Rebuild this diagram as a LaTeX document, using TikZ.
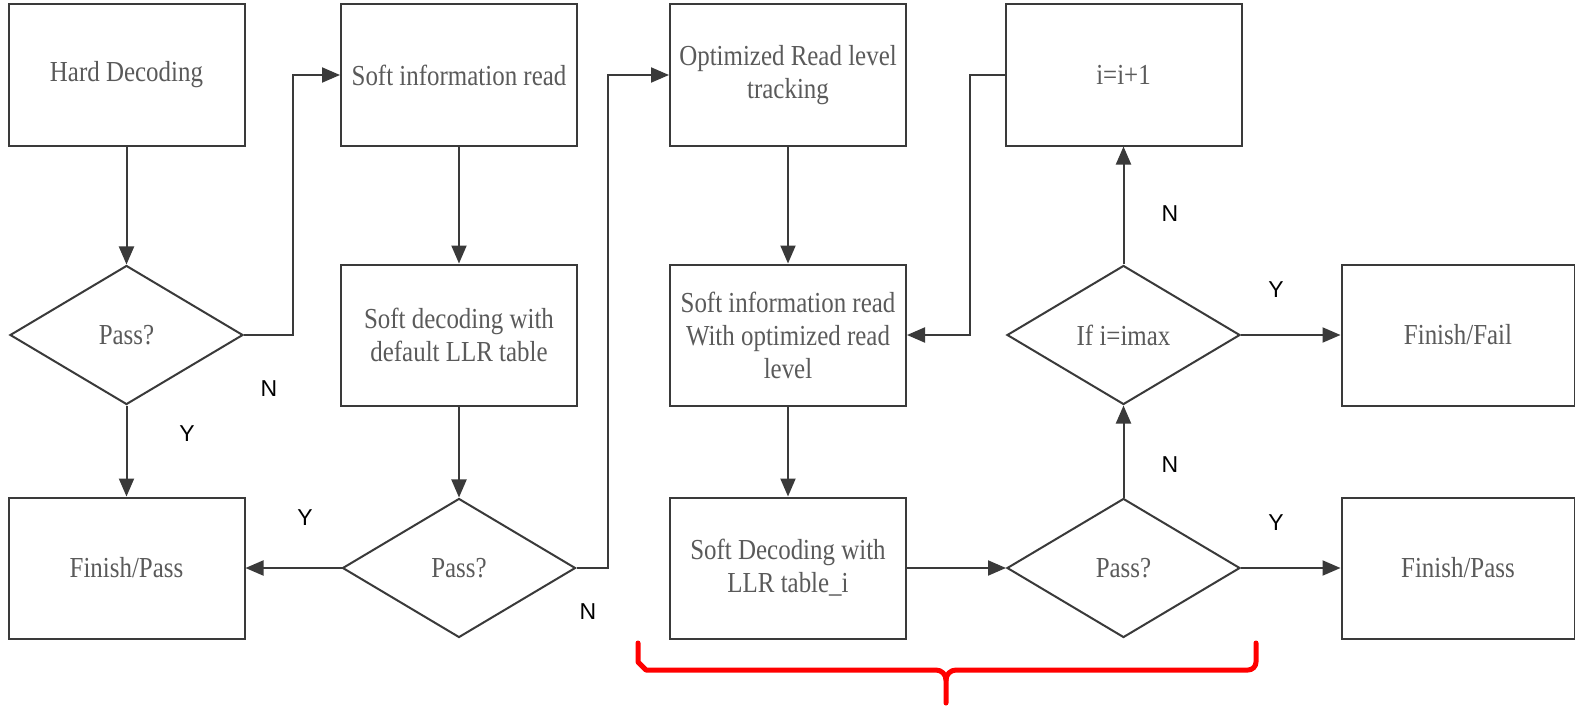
\documentclass[tikz,border=0pt]{standalone}
\usepackage{fontspec}
\usetikzlibrary{shapes.geometric,arrows.meta}
\newfontfamily\boxfont[FakeStretch=0.86]{Liberation Serif}
\newfontfamily\labfont{Liberation Sans}
\definecolor{edge}{HTML}{3A3A3A}
\definecolor{boxtext}{HTML}{5A5A5A}
\begin{document}
\begin{tikzpicture}[x=1pt,y=-1pt,
  base/.style={draw=edge,line width=2pt,align=center,text=boxtext,
    font=\boxfont\fontsize{29}{33}\selectfont,inner sep=0pt},
  stepbox/.style={base,rectangle,minimum width=236pt,minimum height=141pt},
  endbox/.style={base,rectangle,minimum width=233pt,minimum height=141pt},
  test/.style={base,diamond,aspect=1.68,minimum width=233pt,minimum height=139pt},
  flow/.style={draw=edge,line width=2pt,-{Triangle[length=18pt,width=15pt]}},
  lab/.style={font=\labfont\fontsize{23}{26}\selectfont,text=black,inner sep=0pt}]
\useasboundingbox (0,0) rectangle (1575,709);
\fill[white] (0,0) rectangle (1575,709);

% first column
\node[stepbox] (hard) at (126.5,75) {Hard Decoding};
\node[test] (p1) at (126.5,335) {Pass?};
\node[stepbox] (fp1) at (126.5,568) {Finish/Pass};

% second column
\node[stepbox] (soft1) at (459,75) {Soft information read};
\node[stepbox] (dec1) at (459,335) {Soft decoding with\\default LLR table};
\node[test] (p2) at (459,568) {Pass?};

% third column
\node[stepbox] (opt) at (788,75) {Optimized Read level\\tracking};
\node[stepbox] (sread) at (788,335) {Soft information read\\With optimized read\\level};
\node[stepbox] (dec2) at (788,568) {Soft Decoding with\\LLR table\_i};

% fourth column
\node[stepbox] (inc) at (1123.5,75) {i=i+1};
\node[test] (imax) at (1123.5,335) {If i=imax};
\node[test] (p3) at (1123.5,568) {Pass?};

% end states
\node[endbox] (fail) at (1458,335) {Finish/Fail};
\node[endbox] (fp2) at (1458,568) {Finish/Pass};

% elbow corners
\coordinate (j1) at (293,335);
\coordinate (j2) at (608,568);
\coordinate (j3) at (970,75);

% connectors
\draw[flow] (hard) -- (p1);
\draw[flow] (p1) -- (fp1);
\draw[flow] (p1.east) -- (j1) |- (soft1.west);
\draw[flow] (soft1) -- (dec1);
\draw[flow] (dec1) -- (p2);
\draw[flow] (p2.west) -- (fp1.east);
\draw[flow] (p2.east) -- (j2) |- (opt.west);
\draw[flow] (opt) -- (sread);
\draw[flow] (sread) -- (dec2);
\draw[flow] (dec2.east) -- (p3.west);
\draw[flow] (p3) -- (imax);
\draw[flow] (imax) -- (inc);
\draw[flow] (inc.west) -- (j3) |- (sread.east);
\draw[flow] (imax.east) -- (fail.west);
\draw[flow] (p3.east) -- (fp2.west);

% branch labels
\node[lab] (n1) at (269,389) {N};
\node[lab] (y1) at (187,434) {Y};
\node[lab] (y2) at (305,518) {Y};
\node[lab] (n2) at (588,612) {N};
\node[lab] (n3) at (1170,465) {N};
\node[lab] (n4) at (1170,214) {N};
\node[lab] (y3) at (1276,290) {Y};
\node[lab] (y4) at (1276,523) {Y};

% red brace under the retry loop
\draw[red,line width=5pt,line cap=round,line join=round]
  (638,643) -- (638,662) to[out=90,in=180,looseness=0] (646,670) -- (936,670)
  to[out=0,in=90] (946,680) -- (946,703);
\draw[red,line width=5pt,line cap=round,line join=round]
  (946,680) to[out=90,in=180] (956,670) -- (1248,670)
  to[out=0,in=-90] (1256,662) -- (1256,643);
\end{tikzpicture}
\end{document}
